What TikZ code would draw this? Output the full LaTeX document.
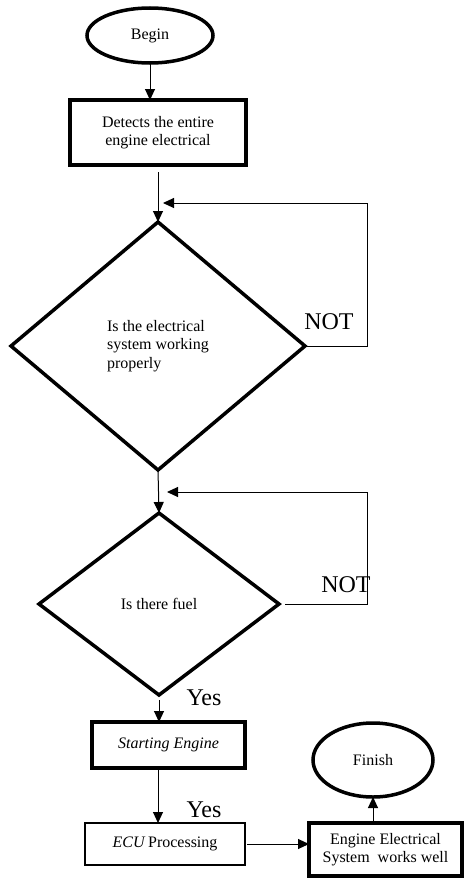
\documentclass[tikz,border=0pt]{standalone}
\usepackage{fontspec}
\setmainfont{Liberation Serif}
\usetikzlibrary{shapes.geometric,arrows.meta,positioning}

\begin{document}
\begin{tikzpicture}[x=1pt, y=-1pt, >={Triangle[length=11pt,width=10pt]},
    font=\fontsize{16}{18.4}\selectfont]
    % Styles
    \tikzstyle{block} = [rectangle, draw, line width=3.5pt, fill=white, align=center, inner sep=0pt, outer sep=0pt]
    \tikzstyle{decision} = [diamond, draw, line width=3.5pt, fill=white, inner sep=0pt, outer sep=0pt]
    \tikzstyle{terminal} = [ellipse, draw, line width=3.5pt, fill=white, inner sep=0pt, outer sep=0pt]
    \tikzstyle{line} = [draw, line width=1pt, ->]
    \tikzstyle{lbl} = [font=\fontsize{24}{26}\selectfont, inner sep=0pt]

    \useasboundingbox (0,0) rectangle (464,878);

    % Nodes
    \node [terminal, minimum width=126pt, minimum height=55pt] (begin) at (150,35.5) {Begin};
    \node [block, minimum width=176pt, minimum height=65pt, below=37pt of begin, xshift=8pt] (detect)
        {Detects the entire\\engine electrical};
    \node [decision, minimum width=294pt, minimum height=248pt, below=57pt of detect, align=left] (elec)
        {Is the electrical\\system working\\properly};
    \node [decision, minimum width=240pt, minimum height=182pt, below=43pt of elec, xshift=1pt] (fuel)
        {Is there fuel};
    \node [block, minimum width=153pt, minimum height=46pt, below=27pt of fuel, xshift=9.5pt] (start)
        {\itshape Starting Engine};
    \node [block, line width=1.5pt, minimum width=160pt, minimum height=42pt, below=55pt of start, xshift=-3.5pt] (ecu)
        {\textit{ECU}\,Processing};
    \node [block, minimum width=153pt, minimum height=53pt, right=64pt of ecu, yshift=-5.5pt] (engine)
        {Engine Electrical\\System\ \ works well};
    \node [terminal, minimum width=120pt, minimum height=74pt] (finish) at (373,760) {Finish};

    \node [lbl] (not1) at (329,322) {NOT};
    \node [lbl] (not2) at (346,585) {NOT};
    \node [lbl] (yes1) at (204,698) {Yes};
    \node [lbl] (yes2) at (204,810) {Yes};

    \coordinate (c1) at (367,203);
    \coordinate (back1) at (163,203);
    \coordinate (c2) at (367,492);
    \coordinate (back2) at (167,492);

    % Main Flow
    \path [line] (begin.south) -- (begin.south |- detect.north);
    \path [line] ([yshift=-7pt]detect.south) -- (elec.north);
    \path [line] (elec.south) -- (fuel.north);
    \path [line] ([yshift=-5pt]fuel.south) -- (fuel.south |- start.north);
    \path [line] (start.south -| elec.south) -- (ecu.north -| elec.south);
    \path [line] ([xshift=2pt]ecu.east) -- (ecu.east -| engine.west);
    \path [line] (engine.north -| finish.south) -- (finish.south);

    % Loops
    \draw [line] (elec.east) -| (c1) -- (back1);
    \draw [line] ([xshift=6pt]fuel.east) -| (c2) -- (back2);

\end{tikzpicture}
\end{document}
